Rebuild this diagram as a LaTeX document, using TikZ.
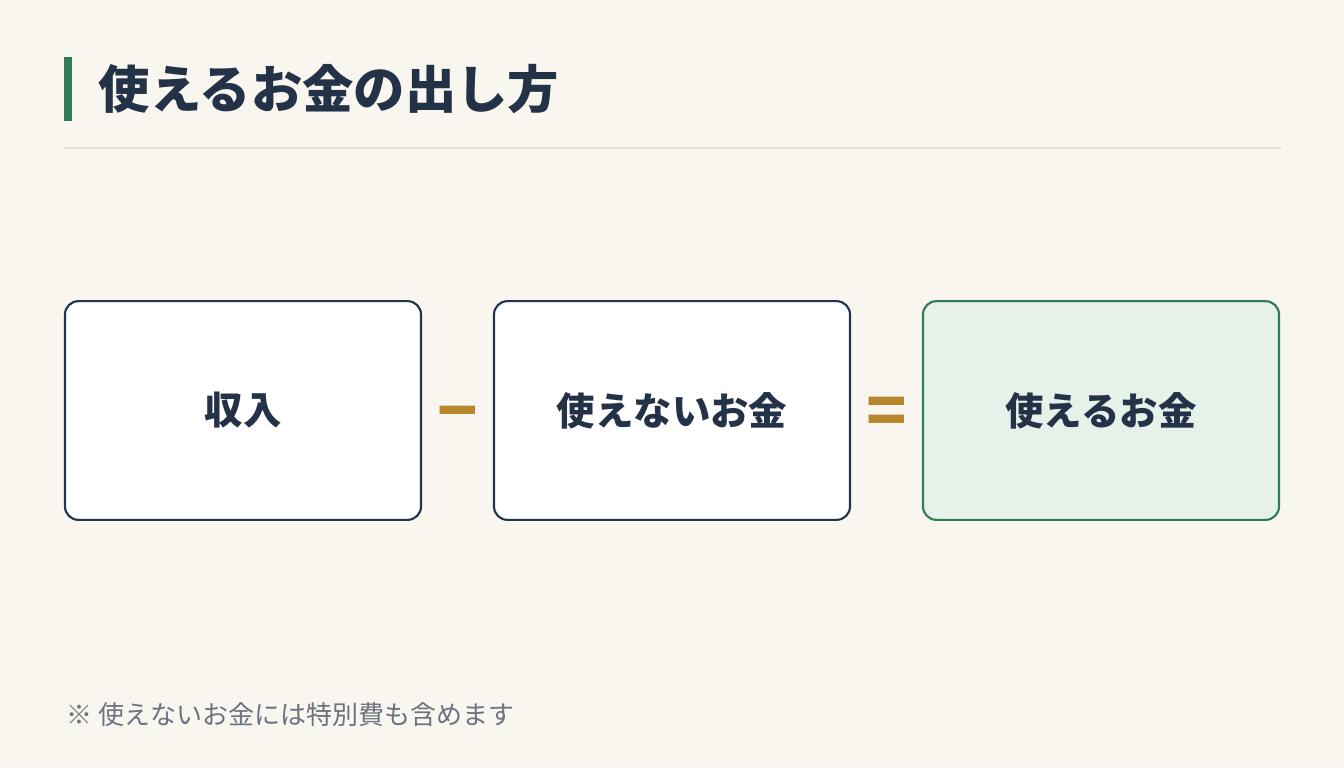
\documentclass[tikz,border=0pt]{standalone}
\usepackage{fontspec}
\setmainfont{Noto Sans CJK JP}
\usetikzlibrary{positioning}
\definecolor{bgcol}{HTML}{F9F6EF}
\definecolor{navy}{HTML}{22354F}
\definecolor{inkcol}{HTML}{243247}
\definecolor{leaf}{HTML}{2E7D55}
\definecolor{leaflight}{HTML}{E6F1EA}
\definecolor{gold}{HTML}{B8862B}
\definecolor{greytext}{HTML}{6B7280}
\definecolor{rulecol}{HTML}{E0DDD6}
\begin{document}
\begin{tikzpicture}[x=0.75pt,y=-0.75pt,
    box/.style={draw=navy,line width=1.6pt,fill=white,rounded corners=10pt,minimum width=267pt,minimum height=164pt,inner sep=0pt,font=\fontsize{28.8}{32}\selectfont\bfseries,text=inkcol},
    op/.style={text=gold,font=\fontsize{50}{50}\selectfont\bfseries,inner sep=0pt}]
    \fill[bgcol] (0,0) rectangle (1344,768);
    \fill[leaf] (64,57) rectangle (72,121);
    \node[anchor=west,text=inkcol,font=\fontsize{38.5}{44}\selectfont\bfseries] (title) at (94,89) {使えるお金の出し方};
    \draw[rulecol,line width=2pt] (64,148) -- (1281,148);

    \node[box] (income) at (243,410.5) {収入};
    \node[box] (fixed) at (672,410.5) {使えないお金};
    \node[box,draw=leaf,fill=leaflight] (free) at (1101,410.5) {使えるお金};
    \node[op] (minus) at (457.5,421) {−};
    \node[op] (equal) at (886.5,416) {=};

    % footnote
    \node[anchor=west,text=greytext,font=\fontsize{19.5}{22}\selectfont] (note) at (62,715) {※ 使えないお金には特別費も含めます};
\end{tikzpicture}
\end{document}
